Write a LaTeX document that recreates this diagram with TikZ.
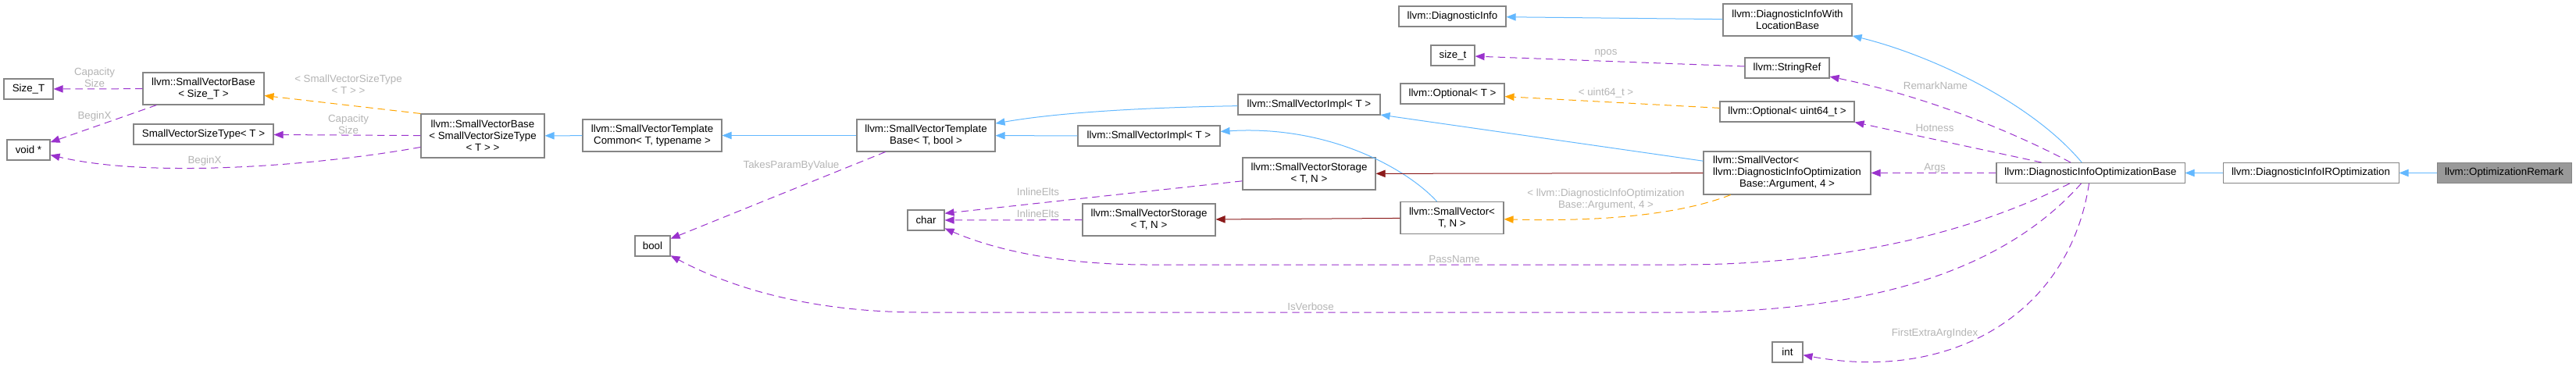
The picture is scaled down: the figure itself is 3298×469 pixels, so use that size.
\documentclass[tikz,border=0pt]{standalone}
\usepackage{fontspec}
\setmainfont{Liberation Sans}
\usetikzlibrary{arrows.meta}
\definecolor{inhblue}{HTML}{63B8FF}
\definecolor{usepurple}{HTML}{9A32CD}
\definecolor{tmplorange}{HTML}{FFA500}
\definecolor{privred}{HTML}{8B1A1A}
\definecolor{boxborder}{HTML}{858585}
\definecolor{lblgray}{HTML}{B4B4B4}
\definecolor{curfill}{HTML}{999999}
\begin{document}
\begin{tikzpicture}[x=0.75pt,y=-0.75pt,
  cls/.style 2 args={draw=boxborder, line width=0.8pt, fill=white, align=center, inner sep=0pt,
    minimum width=#1*0.75pt, minimum height=#2*0.75pt, font=\fontsize{10}{11.25}\selectfont, text=black},
  arr/.style={-{Triangle[length=9pt,width=7pt]}, line width=0.75pt},
  inh/.style={arr, draw=inhblue},
  prv/.style={arr, draw=privred},
  usg/.style={arr, draw=usepurple, dash pattern=on 7pt off 4.5pt},
  tmp/.style={arr, draw=tmplorange, dash pattern=on 7pt off 4.5pt},
  lbl/.style={font=\fontsize{10}{11.25}\selectfont, text=lblgray, align=center, inner sep=0pt}]
\useasboundingbox (0,0) rectangle (3298,469);

% classes
\node[cls={63}{26}] (SizeT) at (36.5,114) {Size\_T};
\node[cls={155}{41}] (SVBSizeT) at (260.5,113.5) {llvm::SmallVectorBase\\< Size\_T >};
\node[cls={55}{26}] (voidp) at (36.5,192) {void *};
\node[cls={179}{26}] (SVST) at (260.5,172) {SmallVectorSizeType< T >};
\node[cls={158}{56}] (SVBSVST) at (618,174) {llvm::SmallVectorBase\\< SmallVectorSizeType\\< T > >};
\node[cls={178}{41}] (SVTC) at (835,173.5) {llvm::SmallVectorTemplate\\Common< T, typename >};
\node[cls={45}{26}] (bool) at (835.5,315) {bool};
\node[cls={177}{41}] (SVTB) at (1185.5,173.5) {llvm::SmallVectorTemplate\\Base< T, bool >};
\node[cls={47}{26}] (char) at (1185.5,282) {char};
\node[cls={182}{26}] (SVImplA) at (1676,134) {llvm::SmallVectorImpl< T >};
\node[cls={182}{26}] (SVImplB) at (1471,174) {llvm::SmallVectorImpl< T >};
\node[cls={170}{41}] (SVStorA) at (1676,222.5) {llvm::SmallVectorStorage\\< T, N >};
\node[cls={170}{41}] (SVStorB) at (1471,281.5) {llvm::SmallVectorStorage\\< T, N >};
\node[cls={132}{41}] (SVTN) at (1859,279) {llvm::SmallVector<\\T, N >};
\node[cls={137}{26}] (DI) at (1859.5,21) {llvm::DiagnosticInfo};
\node[cls={56}{26}] (sizet) at (1860,71) {size\_t};
\node[cls={133}{26}] (OptT) at (1859.5,120) {llvm::Optional< T >};
\node[cls={165}{41}] (DIWLB) at (2288.5,25.5) {llvm::DiagnosticInfoWith\\LocationBase};
\node[cls={108}{26}] (StringRef) at (2288,87) {llvm::StringRef};
\node[cls={172}{26}] (OptU) at (2288,143) {llvm::Optional< uint64\_t >};
\node[cls={214}{55}] (SVDIOB) at (2288,221.5) {\begin{tabular}{@{}c@{}}\multicolumn{1}{@{}l@{}}{llvm::SmallVector<}\\llvm::DiagnosticInfoOptimization\\Base::Argument, 4 >\end{tabular}};
\node[cls={39}{26}] (int) at (2288.5,451) {int};
\node[cls={241}{26}] (DIOB) at (2676.5,221.5) {llvm::DiagnosticInfoOptimizationBase};
\node[cls={225}{26}] (DIIRO) at (2958.5,221.5) {llvm::DiagnosticInfoIROptimization};
\node[cls={172}{26}, fill=curfill] (OR) at (3206,221.5) {llvm::OptimizationRemark};

% inheritance (blue)
\draw[inh] (OR) -- (DIIRO);
\draw[inh] (DIIRO) -- (DIOB);
\draw[inh] (DIOB) .. controls (2600,130) and (2470,70) .. (DIWLB);
\draw[inh] (DIWLB) -- (DI);
\draw[inh] (SVDIOB) -- (SVImplA);
\draw[inh] (SVTN) .. controls (1800,215) and (1700,160) .. (SVImplB);
\draw[inh] (SVImplB) -- (SVTB);
\draw[inh] (SVImplA) .. controls (1450,138) and (1350,145) .. (SVTB);
\draw[inh] (SVTB) -- (SVTC);
\draw[inh] (SVTC) -- (SVBSVST);

% private (dark red)
\draw[prv] (SVDIOB) -- (SVStorA);
\draw[prv] (SVTN) -- (SVStorB);

% template instances (orange)
\draw[tmp] (SVBSVST.north west) -- (SVBSizeT);
\draw[tmp] (OptU) -- (OptT);
\draw[tmp] (SVDIOB) .. controls (2150,275) and (2050,284) .. (SVTN);

% usage (purple)
\draw[usg] (SVBSizeT) -- (SizeT);
\draw[usg] (SVBSizeT) -- (voidp);
\draw[usg] (SVBSVST) -- (SVST);
\draw[usg] (SVBSVST) .. controls (420,210) and (200,230) .. (voidp);
\draw[usg] (SVTB) -- (bool);
\draw[usg] (SVStorA) -- (char.20);
\draw[usg] (SVStorB) -- (char);
\draw[usg] (StringRef) -- (sizet);
\draw[usg] (DIOB) .. controls (2560,160) and (2450,120) .. (StringRef);
\draw[usg] (DIOB) -- (OptU.south east);
\draw[usg] (DIOB) -- (SVDIOB);
\draw[usg] (DIOB) .. controls (2560,280) and (2400,339) .. (2150,339) -- (1470,339) .. controls (1330,339) and (1250,310) .. (char);
\draw[usg] (DIOB) .. controls (2580,330) and (2430,400) .. (2150,400) -- (1180,400) .. controls (1020,400) and (920,360) .. (bool);
\draw[usg] (DIOB) .. controls (2650,400) and (2500,490) .. (int);

% edge labels
\node[lbl] (l1) at (121,99.5) {Capacity\\Size};
\node[lbl] (l2) at (121,149) {BeginX};
\node[lbl] (l3) at (446,108.5) {< SmallVectorSizeType\\< T > >};
\node[lbl] (l4) at (446,159.5) {Capacity\\Size};
\node[lbl] (l5) at (262,206) {BeginX};
\node[lbl] (l6) at (1013,212) {TakesParamByValue};
\node[lbl] (l7) at (1329,246) {InlineElts};
\node[lbl] (l8) at (1329,274) {InlineElts};
\node[lbl] (l9) at (2056,68) {npos};
\node[lbl] (l10) at (2056,119) {< uint64\_t >};
\node[lbl] (l11) at (2056,255.5) {< llvm::DiagnosticInfoOptimization\\Base::Argument, 4 >};
\node[lbl] (l12) at (2478,110) {RemarkName};
\node[lbl] (l13) at (2477,164) {Hotness};
\node[lbl] (l14) at (2477,215) {Args};
\node[lbl] (l15) at (1862,332) {PassName};
\node[lbl] (l16) at (1678,393) {IsVerbose};
\node[lbl] (l17) at (2477,427) {FirstExtraArgIndex};
\end{tikzpicture}
\end{document}
